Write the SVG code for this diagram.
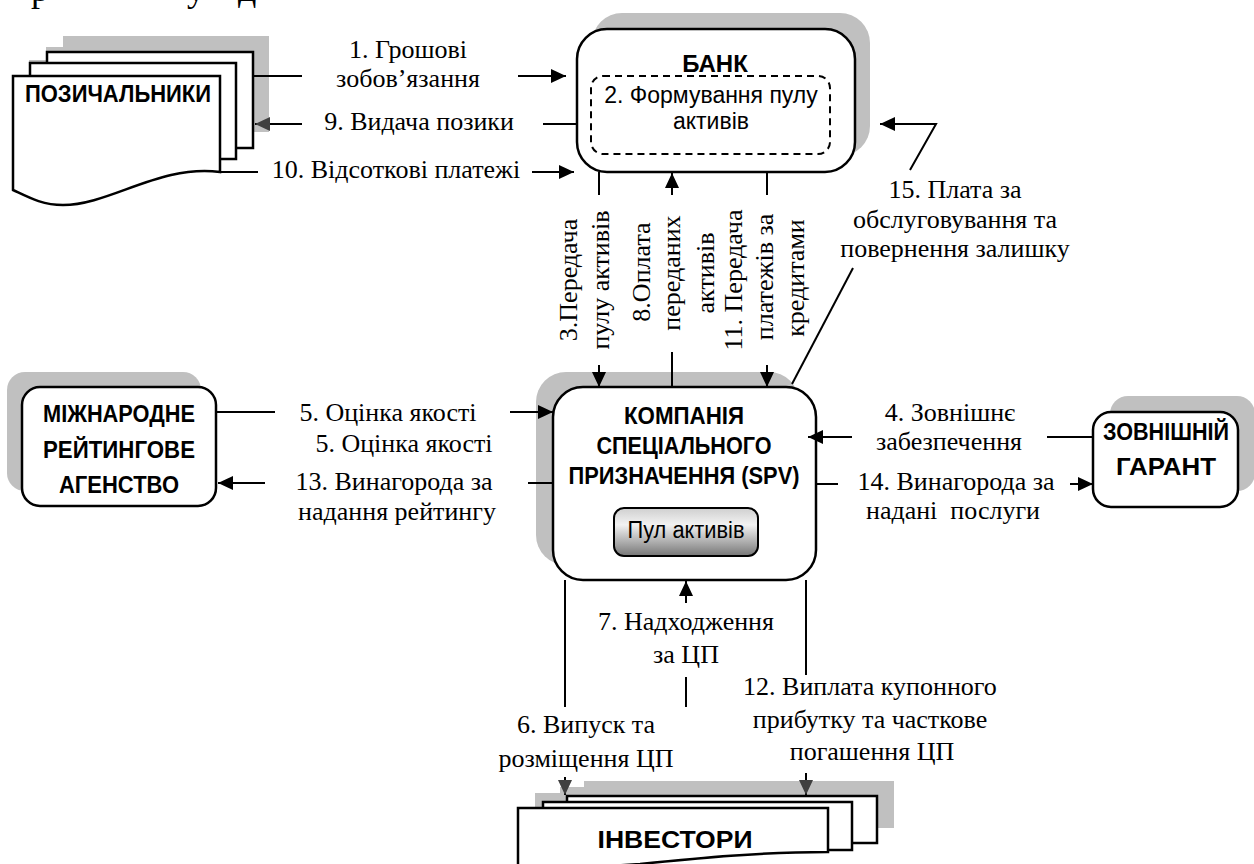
<svg xmlns="http://www.w3.org/2000/svg" width="1254" height="864" viewBox="0 0 1254 864">
<defs>
<style>
.ln{stroke:#000;stroke-width:2;fill:none}
.box{fill:#fff;stroke:#000;stroke-width:2.5}
.sh{fill:#c0c0c0;stroke:none}
.dash{fill:none;stroke:#000;stroke-width:2;stroke-dasharray:7,5}
.lbl{font-family:"Liberation Serif","Times New Roman",serif;font-size:26px;fill:#000;text-anchor:middle}
.frag{font-family:"Liberation Serif","Times New Roman",serif;font-size:36px;fill:#000}
.ttl{font-family:"Liberation Sans",Arial,sans-serif;font-weight:bold;font-size:24px;fill:#000;text-anchor:middle}
.sans{font-family:"Liberation Sans",Arial,sans-serif;font-size:23px;fill:#000;text-anchor:middle}
</style>
<marker id="ah" markerUnits="userSpaceOnUse" markerWidth="16" markerHeight="14" refX="15" refY="7" orient="auto"><path d="M0,0 L15,7 L0,14 z" fill="#000"/></marker>
<marker id="ahg" markerUnits="userSpaceOnUse" markerWidth="16" markerHeight="14" refX="15" refY="7" orient="auto"><path d="M0,0 L15,7 L0,14 z" fill="#404040"/></marker>
<linearGradient id="btn" x1="0" y1="0" x2="0" y2="1"><stop offset="0" stop-color="#cfcfcf"/><stop offset="0.35" stop-color="#f2f2f2"/><stop offset="1" stop-color="#767676"/></linearGradient>
</defs>
<rect width="1254" height="864" fill="#fff"/>
<g id="fragments">
<text class="frag" x="31" y="1">р</text>
<text class="frag" x="187" y="1">у</text>
<text class="frag" x="238" y="1">д</text>
</g>
<g id="borrowers">
<rect class="sh" x="63" y="36" width="206" height="96"/>
<rect class="sh" x="46" y="47" width="206" height="96"/>
<rect class="sh" x="29" y="60" width="207" height="96"/>
<rect class="box" x="47" y="52" width="206" height="96"/>
<rect class="box" x="30" y="63" width="206" height="96"/>
<path class="box" d="M13,76 H220 V172 C160,164 110,205 63,205 C42,205 28,197 13,190 Z"/>
<text class="ttl" x="118" y="102" textLength="186" lengthAdjust="spacingAndGlyphs">ПОЗИЧАЛЬНИКИ</text>
</g>
<g id="bank">
<rect class="sh" x="592" y="13" width="278" height="143" rx="30"/>
<rect class="box" x="577" y="29" width="278" height="143" rx="30"/>
<text class="ttl" x="715" y="72">БАНК</text>
<rect class="dash" x="591" y="76" width="239" height="78" rx="12"/>
<text class="sans" x="711" y="103">2. Формування пулу</text>
<text class="sans" x="711" y="129">активів</text>
</g>
<g id="spv">
<rect class="sh" x="536" y="372" width="263" height="193" rx="30"/>
<rect class="box" x="553" y="387" width="263" height="193" rx="30"/>
<text class="ttl" x="684" y="424" textLength="120" lengthAdjust="spacingAndGlyphs">КОМПАНІЯ</text>
<text class="ttl" x="684" y="454" textLength="175" lengthAdjust="spacingAndGlyphs">СПЕЦІАЛЬНОГО</text>
<text class="ttl" x="684" y="484" textLength="231" lengthAdjust="spacingAndGlyphs">ПРИЗНАЧЕННЯ (SPV)</text>
<rect x="614" y="508" width="144" height="48" rx="10" fill="url(#btn)" stroke="#000" stroke-width="2"/>
<text class="sans" x="686" y="538" font-size="22" textLength="117" lengthAdjust="spacingAndGlyphs">Пул активів</text>
</g>
<g id="agency">
<rect class="sh" x="7" y="372" width="194" height="119" rx="18"/>
<rect class="box" x="22" y="387" width="194" height="119" rx="18"/>
<text class="ttl" x="119" y="422" textLength="152" lengthAdjust="spacingAndGlyphs">МІЖНАРОДНЕ</text>
<text class="ttl" x="119" y="458" textLength="152" lengthAdjust="spacingAndGlyphs">РЕЙТИНГОВЕ</text>
<text class="ttl" x="119" y="493" textLength="120" lengthAdjust="spacingAndGlyphs">АГЕНСТВО</text>
</g>
<g id="guarantor">
<rect class="sh" x="1110" y="396" width="145" height="95" rx="18"/>
<rect class="box" x="1093" y="412" width="145" height="95" rx="18"/>
<text class="ttl" x="1166" y="440" textLength="126" lengthAdjust="spacingAndGlyphs">ЗОВНІШНІЙ</text>
<text class="ttl" x="1166" y="475" textLength="100" lengthAdjust="spacingAndGlyphs">ГАРАНТ</text>
</g>
<g id="investors">
<rect class="sh" x="584" y="781" width="310" height="47"/>
<rect class="sh" x="560" y="787" width="309" height="48"/>
<rect class="sh" x="535" y="793" width="310" height="50"/>
<rect class="box" x="567" y="796" width="310" height="47"/>
<rect class="box" x="543" y="802" width="309" height="48"/>
<path class="box" d="M518,808 H828 V852 C760,852 700,858 640,864 L518,872 Z"/>
<text class="ttl" x="675" y="848" font-size="28" textLength="155" lengthAdjust="spacingAndGlyphs">ІНВЕСТОРИ</text>
</g>
<g id="connectors">
<line class="ln" x1="253" y1="76" x2="302" y2="76"/>
<line class="ln" x1="518" y1="76" x2="566" y2="76" marker-end="url(#ah)"/>
<text class="lbl" x="408" y="58">1. Грошові</text>
<text class="lbl" x="408" y="87">зобов’язання</text>
<line class="ln" x1="302" y1="124" x2="255" y2="124" marker-end="url(#ahg)"/>
<line class="ln" x1="543" y1="124" x2="577" y2="124"/>
<text class="lbl" x="419" y="130">9. Видача позики</text>
<line class="ln" x1="220" y1="172" x2="258" y2="172"/>
<line class="ln" x1="532" y1="172" x2="574" y2="172" marker-end="url(#ah)"/>
<text class="lbl" x="396" y="178">10. Відсоткові платежі</text>
<line class="ln" x1="599" y1="172" x2="599" y2="195"/>
<line class="ln" x1="599" y1="365" x2="599" y2="387" marker-end="url(#ah)"/>
<text class="lbl" transform="translate(577,280) rotate(-90)">3.Передача</text>
<text class="lbl" transform="translate(609,280) rotate(-90)">пулу активів</text>
<line class="ln" x1="672" y1="388" x2="672" y2="352"/>
<line class="ln" x1="672" y1="195" x2="672" y2="173" marker-end="url(#ah)"/>
<text class="lbl" transform="translate(650,272) rotate(-90)">8.Оплата</text>
<text class="lbl" transform="translate(680,273) rotate(-90)">переданих</text>
<text class="lbl" transform="translate(714,273) rotate(-90)">активів</text>
<line class="ln" x1="767" y1="172" x2="767" y2="195"/>
<line class="ln" x1="767" y1="365" x2="767" y2="387" marker-end="url(#ah)"/>
<text class="lbl" transform="translate(742,280) rotate(-90)">11. Передача</text>
<text class="lbl" transform="translate(773,277) rotate(-90)">платежів за</text>
<text class="lbl" transform="translate(804,278) rotate(-90)">кредитами</text>
<line class="ln" x1="792" y1="384" x2="853" y2="268"/>
<polyline class="ln" points="910,170 936,124 880,124" marker-end="url(#ah)"/>
<text class="lbl" x="955" y="198">15. Плата за</text>
<text class="lbl" x="955" y="228">обслуговування та</text>
<text class="lbl" x="955" y="257">повернення залишку</text>
<line class="ln" x1="216" y1="412" x2="275" y2="412"/>
<line class="ln" x1="510" y1="412" x2="553" y2="412" marker-end="url(#ah)"/>
<text class="lbl" x="388" y="421">5. Оцінка якості</text>
<text class="lbl" x="404" y="452">5. Оцінка якості</text>
<line class="ln" x1="265" y1="483" x2="218" y2="483" marker-end="url(#ah)"/>
<line class="ln" x1="528" y1="483" x2="553" y2="483"/>
<text class="lbl" x="394" y="490">13. Винагорода за</text>
<text class="lbl" x="397" y="520">надання рейтингу</text>
<line class="ln" x1="1093" y1="437" x2="1047" y2="437"/>
<line class="ln" x1="852" y1="437" x2="808" y2="437" marker-end="url(#ah)"/>
<text class="lbl" x="950" y="421">4. Зовнішнє</text>
<text class="lbl" x="949" y="450">забезпечення</text>
<line class="ln" x1="816" y1="484" x2="838" y2="484"/>
<line class="ln" x1="1070" y1="484" x2="1093" y2="484" marker-end="url(#ah)"/>
<text class="lbl" x="956" y="490">14. Винагорода за</text>
<text class="lbl" x="953" y="519" xml:space="preserve">надані  послуги</text>
<line class="ln" x1="565" y1="580" x2="565" y2="707"/>
<line class="ln" x1="565" y1="777" x2="565" y2="795" marker-end="url(#ahg)"/>
<text class="lbl" x="586" y="733">6. Випуск та</text>
<text class="lbl" x="586" y="767">розміщення ЦП</text>
<line class="ln" x1="686" y1="603" x2="686" y2="581" marker-end="url(#ah)"/>
<line class="ln" x1="686" y1="677" x2="686" y2="707"/>
<text class="lbl" x="686" y="630">7. Надходження</text>
<text class="lbl" x="686" y="663">за ЦП</text>
<line class="ln" x1="806" y1="580" x2="806" y2="675"/>
<line class="ln" x1="806" y1="773" x2="806" y2="795" marker-end="url(#ahg)"/>
<text class="lbl" x="870" y="695">12. Виплата купонного</text>
<text class="lbl" x="870" y="728">прибутку та часткове</text>
<text class="lbl" x="872" y="760">погашення ЦП</text>
</g>
</svg>
